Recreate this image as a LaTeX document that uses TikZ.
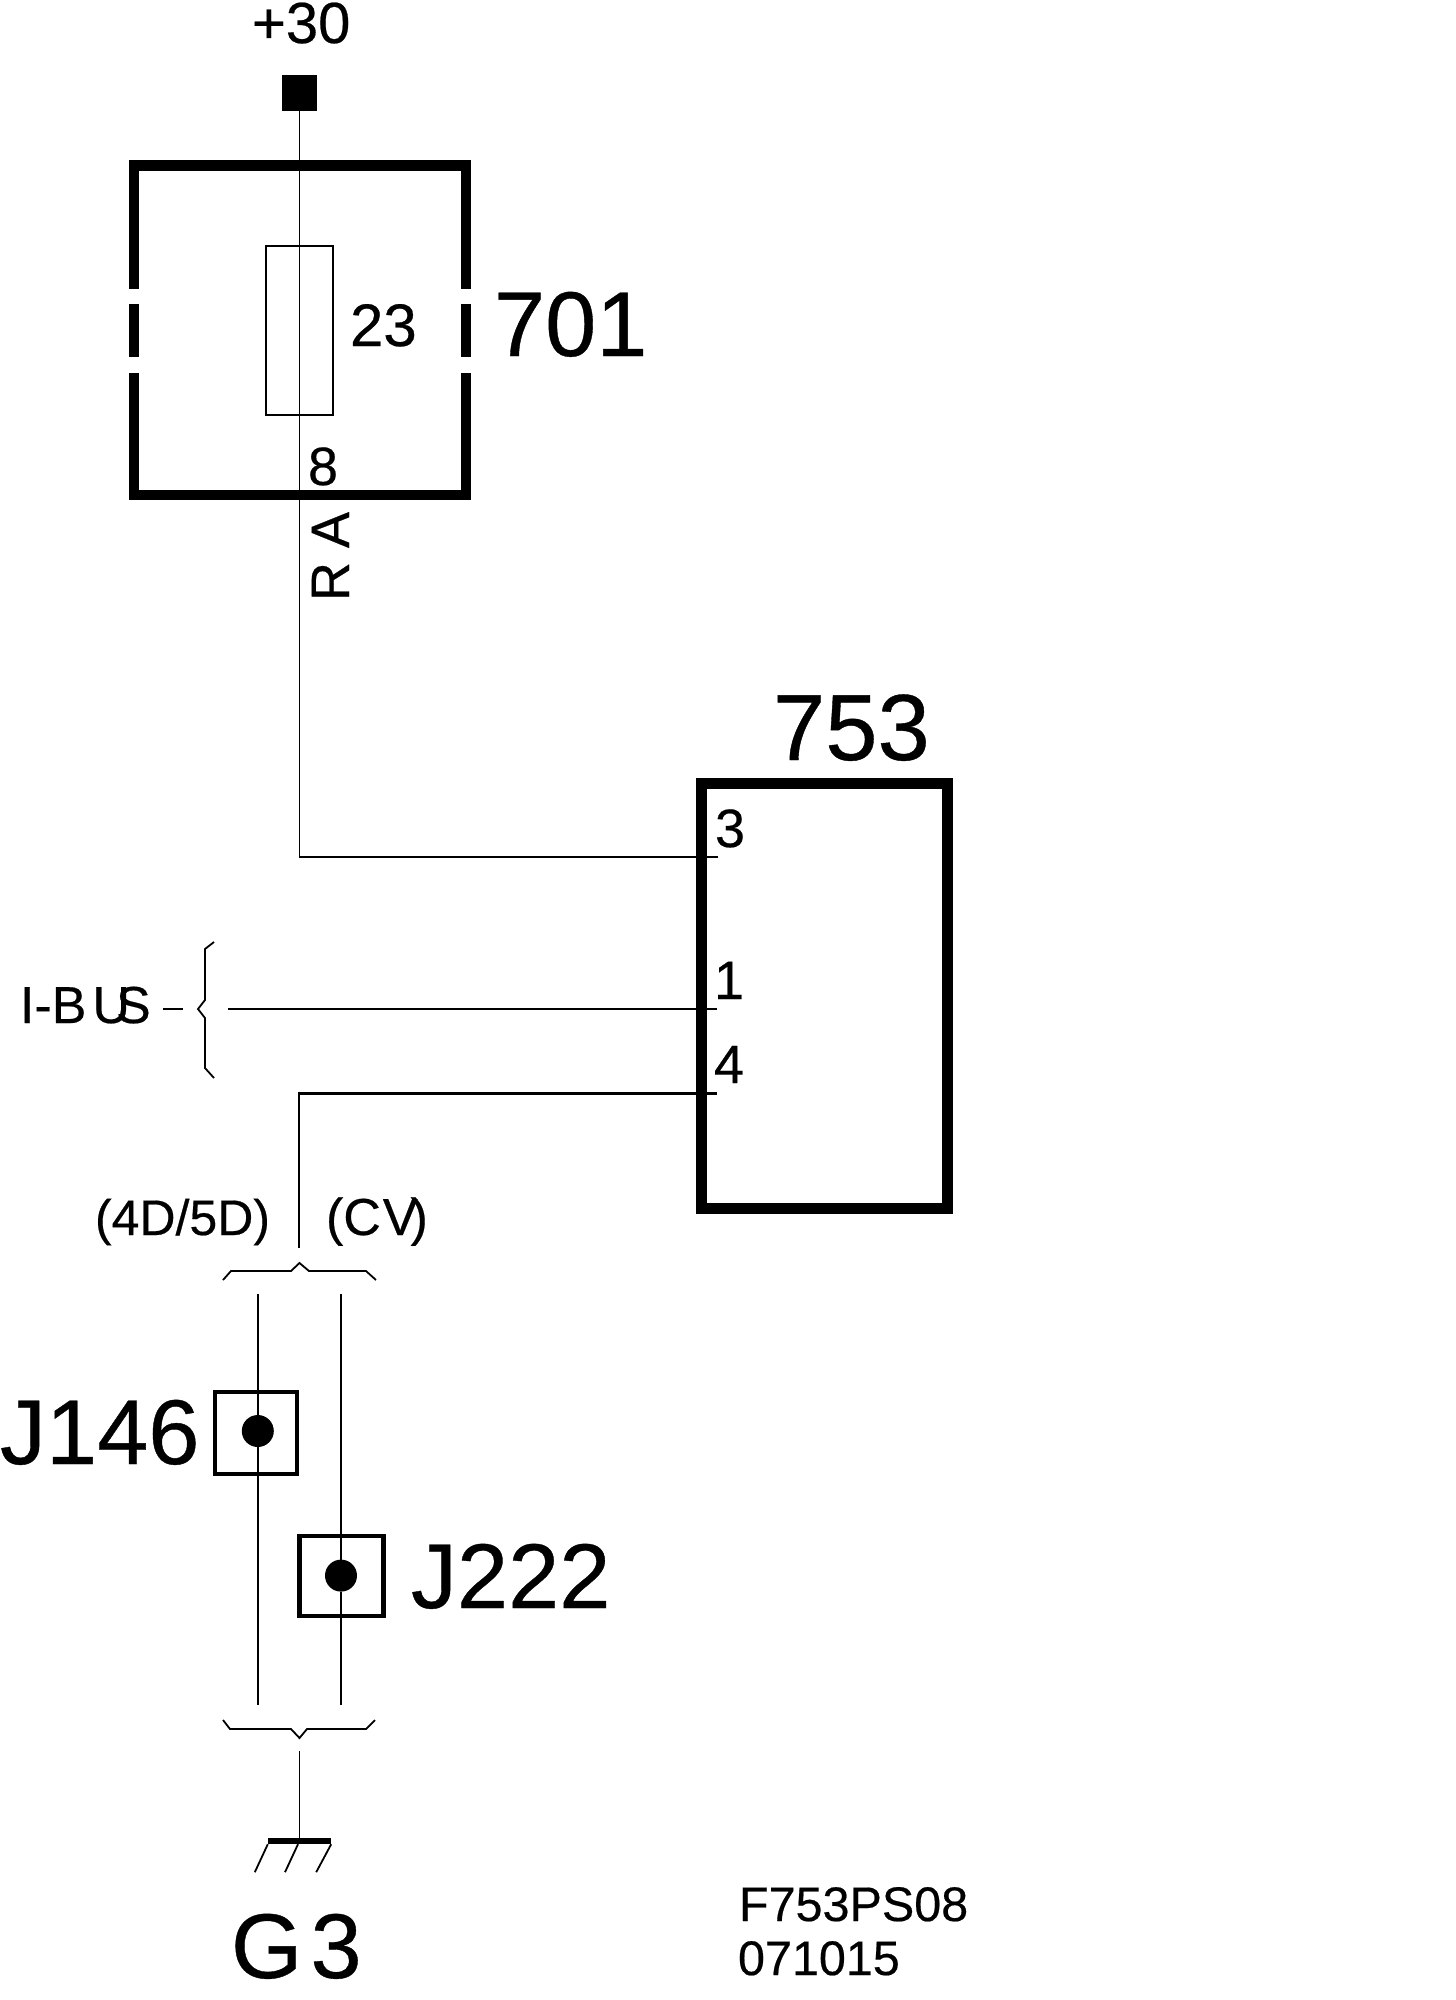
\documentclass[tikz,border=0pt]{standalone}
\usepackage{fontspec}
\setmainfont[FakeBold=0.4]{Liberation Sans}
\usetikzlibrary{positioning}
\newcommand{\fsize}[1]{\fontsize{#1}{#1}\selectfont}
\tikzset{
  x=1pt,y=-1pt,
  wire/.style={line width=1.8pt},
  heavywire/.style={line width=3pt},
  brace/.style={line width=1.8pt},
  thickbox/.style={draw, rectangle, line width=10.6pt, inner sep=0pt, outer sep=0pt},
  jbox/.style={draw, rectangle, line width=4.6pt, inner sep=0pt, outer sep=0pt},
  fuse/.style={draw, rectangle, line width=2.4pt, inner sep=0pt, outer sep=0pt, minimum width=67pt, minimum height=169pt},
  gap/.style={fill=white, rectangle, inner sep=0pt, outer sep=0pt, minimum width=14pt},
  dot/.style={fill, circle, inner sep=0pt, outer sep=0pt, minimum size=32pt},
  bigtext/.style={inner sep=0pt, outer sep=0pt, anchor=base west, font=\fsize{92}},
  midtext/.style={inner sep=0pt, outer sep=0pt, anchor=base west, font=\fsize{54}},
  smalltext/.style={inner sep=0pt, outer sep=0pt, anchor=base west, font=\fsize{48.5}}
}

\begin{document}
\begin{tikzpicture}
      \useasboundingbox (0,0) rectangle (1456,2000);

      % fuse box
      \node[thickbox, minimum width=332pt, minimum height=329.5pt] (box701) at (300,330.2) {};
      \node[gap, minimum height=15pt] (gapa) at (box701.west |- 0,296.5) {};
      \node[gap, minimum height=16pt] (gapb) at (box701.west |- 0,365) {};
      \node[gap, minimum height=15pt] (gapc) at (box701.east |- 0,296.5) {};
      \node[gap, minimum height=16pt] (gapd) at (box701.east |- 0,365) {};
      \node[fuse] (fuse23) at (299.5,330.5) {};
      \node[fill, rectangle, inner sep=0pt, minimum width=35pt, minimum height=36pt] (term30) at (299.5,93) {};

      % module
      \node[thickbox, minimum width=246.3pt, minimum height=425.4pt] (box753) at (824.5,996) {};
      \coordinate (pin3) at (718,857);
      \coordinate (pin1) at (717,1009);
      \coordinate (pin4) at (717,1093.6);

      % splices
      \node[jbox, minimum width=82pt, minimum height=82pt] (boxj146) at (256,1433) {};
      \node[jbox, minimum width=84pt, minimum height=80pt] (boxj222) at (341.5,1576) {};
      \node[dot] (dot146) at (257.8,1431) {};
      \node[dot] (dot222) at (341,1575.6) {};

      % ground
      \node[fill, rectangle, inner sep=0pt, minimum width=63pt, minimum height=6pt] (gnd) at (299.5,1841) {};

      % free ends
      \coordinate (busa) at (228,1009);
      \coordinate (busb) at (163,1009);
      \coordinate (busc) at (183,1009);
      \coordinate (spl) at (299.3,1091.5);
      \coordinate (splend) at (299.3,1248);
      \coordinate (lefttop) at (dot146 |- 0,1294);
      \coordinate (leftbot) at (dot146 |- 0,1705);
      \coordinate (righttop) at (dot222 |- 0,1294);
      \coordinate (rightbot) at (dot222 |- 0,1705);
      \coordinate (gndtop) at (gnd |- 0,1751);

      \draw[wire] (term30.south) |- (pin3);
      \draw[wire] (busa) -- (pin1);
      \draw[wire] (busb) -- (busc);
      \draw[heavywire] (spl |- pin4) -- (pin4);
      \draw[wire] (spl) -- (splend);
      \draw[wire] (lefttop) -- (dot146) -- (leftbot);
      \draw[wire] (righttop) -- (dot222) -- (rightbot);
      \draw[wire] (gndtop) -- (gnd);
      \draw[wire] (gnd.south west) -- ++(-13,28);
      \draw[wire] (gnd.south) ++(-1.5,0) -- ++(-13,28);
      \draw[wire] (gnd.south east) -- ++(-15,28);

      % braces
      \draw[brace] (214,942) -- (205,949) -- (205,1000) -- (198,1009) -- (205,1018) -- (205,1068) -- (214,1078);
      \draw[brace] (223,1280) -- (231,1271) -- (291,1271) -- (299.5,1263) -- (309,1271) -- (366,1271) -- (376,1280);
      \draw[brace] (223,1720) -- (230,1729) -- (291,1729) -- (299.5,1738) -- (307,1729) -- (366,1729) -- (375,1720);

      % labels
      \node[midtext, font=\fsize{58}] (lbl30) at (252,43) {+30};
      \node[midtext, font=\fsize{60}] (lbl23) at (350,346) {23};
      \node[midtext] (lbl8) at (308,485) {8};
      \node[bigtext] (lbl701) at (494,356) {701};
      \node[midtext, rotate=90] (lblra) at (349,601) {R\hspace{14pt}A};
      \node[bigtext, font=\fsize{94}] (lbl753) at (773,760) {753};
      \node[midtext] (lblp3) at (715,847) {3};
      \node[midtext] (lblp1) at (714,999) {1};
      \node[midtext] (lblp4) at (714,1083) {4};
      \node[midtext, font=\fsize{52}] (lblbus) at (20,1023) {I-B\hspace{6pt}U\hspace{-14pt}S};
      \node[midtext, font=\fsize{50}] (lbl4d) at (95,1235) {(4D/5D)};
      \node[midtext, font=\fsize{52}] (lblcv) at (326,1235) {(C\hspace{2pt}V\hspace{-7pt})};
      \node[bigtext] (lblj146) at (0,1464) {J146};
      \node[bigtext] (lblj222) at (411,1608) {J222};
      \node[bigtext] (lblg3) at (231,1978) {G\hspace{8pt}3};
      \node[smalltext] (lblcode) at (739,1921) {F753PS08};
      \node[smalltext] (lbldate) at (738,1975) {071015};
    \end{tikzpicture}
\end{document}
